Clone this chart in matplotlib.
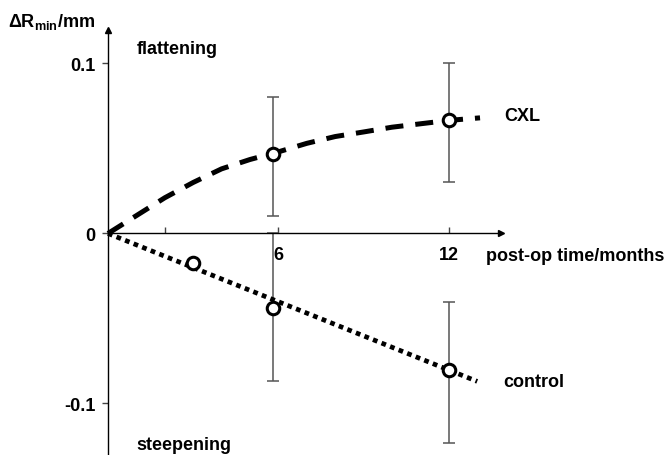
import matplotlib
matplotlib.use("Agg")
import matplotlib.pyplot as plt
import numpy as np

plt.rcParams["font.family"] = ["Liberation Sans", "DejaVu Sans"]
plt.rcParams["font.weight"] = "bold"
plt.rcParams["mathtext.fontset"] = "custom"
plt.rcParams["mathtext.rm"] = "Liberation Sans:bold"
plt.rcParams["mathtext.bf"] = "Liberation Sans:bold"
plt.rcParams["mathtext.default"] = "rm"

# CXL fitted curve
cxl_curve_x = [0, 1, 2, 3, 4, 5, 6, 7, 8, 9, 10, 11, 12, 13.1]
cxl_curve_y = [0, 0.0105, 0.021, 0.030, 0.038, 0.0435, 0.048, 0.053,
               0.057, 0.0597, 0.0625, 0.0645, 0.0665, 0.068]

# control trend line
ctrl_line_x = [0, 13.0]
ctrl_line_y = [0, -0.087]

# measured points with error bars
cxl_x = [5.8, 12]
cxl_y = [0.0465, 0.0668]
cxl_lo = [0.01, 0.03]
cxl_hi = [0.08, 0.10]

ctrl_x = [3, 5.8, 12]
ctrl_y = [-0.0174, -0.0438, -0.0803]
ctrl_err_x = [5.8, 12]
ctrl_err_y = [-0.0438, -0.0803]
ctrl_lo = [-0.087, -0.1234]
ctrl_hi = [0.0, -0.0405]

xticks = [2, 6, 12]
xticklabels = ["", "6", "12"]
yticks = [-0.1, 0, 0.1]
yticklabels = ["-0.1", "0", "0.1"]

FS = 13

fig = plt.figure(figsize=(6.65, 4.56), dpi=100)
ax = fig.add_axes([0, 0, 1, 1])
ax.set_xlim(-3.803, 19.613)
ax.set_ylim(-0.1303, 0.1379)

# axes through the origin
for s in ["top", "right"]:
    ax.spines[s].set_visible(False)
ax.spines["left"].set_position(("data", 0))
ax.spines["bottom"].set_position(("data", 0))
ax.spines["left"].set_bounds(-0.1303, 0.119)
ax.spines["bottom"].set_bounds(0, 13.8)
ax.spines["left"].set_linewidth(1.0)
ax.spines["bottom"].set_linewidth(1.0)
ax.plot([0], [0.1195], marker="^", color="k", ms=5, clip_on=False)
ax.plot([13.85], [0], marker=">", color="k", ms=5, clip_on=False)

ax.set_xticks(xticks)
ax.set_xticklabels(xticklabels)
ax.set_yticks(yticks)
ax.set_yticklabels(yticklabels)
ax.tick_params(axis="x", direction="in", length=4, width=1, pad=9,
               labelsize=FS, colors="#444444", labelcolor="k")
ax.tick_params(axis="y", direction="out", length=4, width=1, pad=5,
               labelsize=FS, colors="#444444", labelcolor="k")

# error bars
ax.errorbar(cxl_x, cxl_y, yerr=[np.subtract(cxl_y, cxl_lo), np.subtract(cxl_hi, cxl_y)],
            fmt="none", ecolor="#555555", elinewidth=1.1, capsize=4.5, capthick=1.1, zorder=2)
ax.errorbar(ctrl_err_x, ctrl_err_y,
            yerr=[np.subtract(ctrl_err_y, ctrl_lo), np.subtract(ctrl_hi, ctrl_err_y)],
            fmt="none", ecolor="#555555", elinewidth=1.1, capsize=4.5, capthick=1.1, zorder=2)

# trend lines
ax.plot(cxl_curve_x, cxl_curve_y, color="k", lw=3.6, ls=(0, (3.6, 2.4)),
        dash_capstyle="butt", zorder=3)
ax.plot(ctrl_line_x, ctrl_line_y, color="k", lw=3.4, ls=(0, (1.0, 0.95)),
        dash_capstyle="butt", zorder=3)

# points
ax.plot(cxl_x, cxl_y, "o", mfc="white", mec="k", ms=9, mew=2.2, zorder=4)
ax.plot(ctrl_x, ctrl_y, "o", mfc="white", mec="k", ms=9, mew=2.2, zorder=4)

# annotations
ax.text(13.94, 0.0691, "CXL", fontsize=FS, va="center", ha="left")
ax.text(13.9, -0.0868, "control", fontsize=FS, va="center", ha="left")
ax.text(1.02, 0.1062, "flattening", fontsize=FS, va="baseline", ha="left")
ax.text(0.99, -0.1268, "steepening", fontsize=FS, va="baseline", ha="left")
ax.text(13.3, -0.0132, "post-op time/months", fontsize=FS, va="center", ha="left")
ax.text(-3.52, 0.122, "\u0394R$_{min}$/mm", fontsize=FS, va="baseline", ha="left")

fig.savefig("out.png", dpi=100)
